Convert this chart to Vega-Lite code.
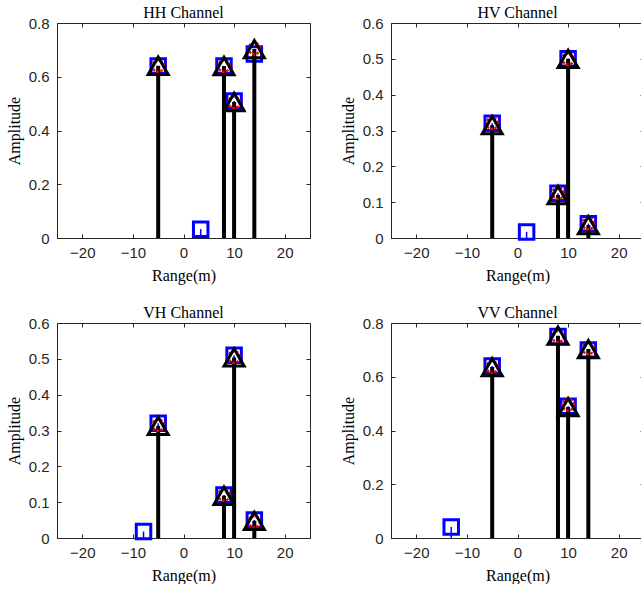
{
  "$schema": "https://vega.github.io/schema/vega-lite/v6.json",
  "padding": {"left": 5, "top": 4, "right": 0, "bottom": 0},
  "datasets": {
    "pts": [
      {"ch": "HH", "s": "tri", "x": -5, "y": 0.641},
      {"ch": "HH", "s": "tri", "x": 8, "y": 0.64},
      {"ch": "HH", "s": "tri", "x": 10, "y": 0.506},
      {"ch": "HH", "s": "tri", "x": 14, "y": 0.703},
      {"ch": "HH", "s": "sq", "x": -5, "y": 0.64},
      {"ch": "HH", "s": "sq", "x": 8, "y": 0.64},
      {"ch": "HH", "s": "sq", "x": 10, "y": 0.51},
      {"ch": "HH", "s": "sq", "x": 14, "y": 0.685},
      {"ch": "HH", "s": "sq", "x": 3.4, "y": 0.033},
      {"ch": "HH", "s": "ci", "x": -5, "y": 0.64},
      {"ch": "HH", "s": "ci", "x": 8, "y": 0.64},
      {"ch": "HH", "s": "ci", "x": 10, "y": 0.505},
      {"ch": "HH", "s": "ci", "x": 14, "y": 0.705},
      {"ch": "HV", "s": "tri", "x": -5, "y": 0.315},
      {"ch": "HV", "s": "tri", "x": 8, "y": 0.12},
      {"ch": "HV", "s": "tri", "x": 10, "y": 0.5},
      {"ch": "HV", "s": "tri", "x": 14, "y": 0.036},
      {"ch": "HV", "s": "sq", "x": -5, "y": 0.32},
      {"ch": "HV", "s": "sq", "x": 8, "y": 0.125},
      {"ch": "HV", "s": "sq", "x": 10, "y": 0.5},
      {"ch": "HV", "s": "sq", "x": 14, "y": 0.04},
      {"ch": "HV", "s": "sq", "x": 1.8, "y": 0.017},
      {"ch": "HV", "s": "ci", "x": -5, "y": 0.32},
      {"ch": "HV", "s": "ci", "x": 8, "y": 0.125},
      {"ch": "HV", "s": "ci", "x": 10, "y": 0.5},
      {"ch": "HV", "s": "ci", "x": 14, "y": 0.04},
      {"ch": "VH", "s": "tri", "x": -5, "y": 0.313},
      {"ch": "VH", "s": "tri", "x": 8, "y": 0.118},
      {"ch": "VH", "s": "tri", "x": 10, "y": 0.504},
      {"ch": "VH", "s": "tri", "x": 14, "y": 0.048},
      {"ch": "VH", "s": "sq", "x": -5, "y": 0.32},
      {"ch": "VH", "s": "sq", "x": 8, "y": 0.12},
      {"ch": "VH", "s": "sq", "x": 10, "y": 0.51},
      {"ch": "VH", "s": "sq", "x": 14, "y": 0.05},
      {"ch": "VH", "s": "sq", "x": -7.9, "y": 0.018},
      {"ch": "VH", "s": "ci", "x": -5, "y": 0.315},
      {"ch": "VH", "s": "ci", "x": 8, "y": 0.12},
      {"ch": "VH", "s": "ci", "x": 10, "y": 0.505},
      {"ch": "VH", "s": "ci", "x": 14, "y": 0.045},
      {"ch": "VV", "s": "tri", "x": -5, "y": 0.636},
      {"ch": "VV", "s": "tri", "x": 8, "y": 0.753},
      {"ch": "VV", "s": "tri", "x": 10, "y": 0.487},
      {"ch": "VV", "s": "tri", "x": 14, "y": 0.703},
      {"ch": "VV", "s": "sq", "x": -5, "y": 0.64},
      {"ch": "VV", "s": "sq", "x": 8, "y": 0.75},
      {"ch": "VV", "s": "sq", "x": 10, "y": 0.49},
      {"ch": "VV", "s": "sq", "x": 14, "y": 0.70},
      {"ch": "VV", "s": "sq", "x": -13.1, "y": 0.041},
      {"ch": "VV", "s": "ci", "x": -5, "y": 0.636},
      {"ch": "VV", "s": "ci", "x": 8, "y": 0.75},
      {"ch": "VV", "s": "ci", "x": 10, "y": 0.495},
      {"ch": "VV", "s": "ci", "x": 14, "y": 0.705}
    ]
  },
  "columns": 2,
  "spacing": {"column": 28, "row": 20},
  "concat": [
    {
      "title": "HH Channel",
      "width": 253, "height": 215,
      "data": {"name": "pts"},
      "transform": [{"filter": "datum.ch == 'HH'"}],
      "resolve": {"axis": {"x": "independent", "y": "independent"}},
      "layer": [
        {"transform": [{"filter": "datum.s == 'sq'"}], "mark": {"type": "rule", "color": "#0000ff", "strokeWidth": 1.5},
         "encoding": {"x": {"field": "x", "type": "quantitative", "scale": {"domain": [-25, 25]}, "axis": {"orient": "bottom", "values": [-20, -10, 0, 10, 20], "title": "Range(m)"}},
                      "y": {"field": "y", "type": "quantitative", "scale": {"domain": [0, 0.8]}, "axis": {"orient": "left", "values": [0, 0.2, 0.4, 0.6, 0.8], "title": "Amplitude", "labelExpr": "datum.value == 0 ? '0' : format(datum.value, '.1f')"}},
                      "y2": {"datum": 0}}},
        {"transform": [{"filter": "datum.s == 'sq'"}], "mark": {"type": "point", "shape": "square", "filled": false, "color": "#0000ff", "strokeWidth": 3, "size": 210, "opacity": 1},
         "encoding": {"x": {"field": "x", "type": "quantitative", "axis": {"orient": "top", "values": [-20, -10, 0, 10, 20], "labels": false, "title": null, "domain": false}},
                      "y": {"field": "y", "type": "quantitative", "axis": {"orient": "right", "values": [0, 0.2, 0.4, 0.6, 0.8], "labels": false, "title": null, "domain": false}}}},
        {"transform": [{"filter": "datum.s == 'tri'"}], "mark": {"type": "rule", "color": "#000000", "strokeWidth": 4},
         "encoding": {"x": {"field": "x", "type": "quantitative", "axis": null}, "y": {"field": "y", "type": "quantitative", "axis": null}, "y2": {"datum": 0}}},
        {"transform": [{"filter": "datum.s == 'ci'"}], "mark": {"type": "point", "shape": "circle", "filled": false, "color": "#ff0000", "strokeWidth": 2.5, "size": 130, "strokeDash": [2.5, 1.5], "opacity": 1},
         "encoding": {"x": {"field": "x", "type": "quantitative", "axis": null}, "y": {"field": "y", "type": "quantitative", "axis": null}}},
        {"transform": [{"filter": "datum.s == 'tri'"}], "mark": {"type": "point", "shape": "triangle-up", "filled": false, "color": "#000000", "strokeWidth": 3, "size": 400, "opacity": 1},
         "encoding": {"x": {"field": "x", "type": "quantitative", "axis": null}, "y": {"field": "y", "type": "quantitative", "axis": null}}}
      ]
    },
    {
      "title": "HV Channel",
      "width": 253, "height": 215,
      "data": {"name": "pts"},
      "transform": [{"filter": "datum.ch == 'HV'"}],
      "resolve": {"axis": {"x": "independent", "y": "independent"}},
      "layer": [
        {"transform": [{"filter": "datum.s == 'sq'"}], "mark": {"type": "rule", "color": "#0000ff", "strokeWidth": 1.5},
         "encoding": {"x": {"field": "x", "type": "quantitative", "scale": {"domain": [-25, 25]}, "axis": {"orient": "bottom", "values": [-20, -10, 0, 10, 20], "title": "Range(m)"}},
                      "y": {"field": "y", "type": "quantitative", "scale": {"domain": [0, 0.6]}, "axis": {"orient": "left", "values": [0, 0.1, 0.2, 0.3, 0.4, 0.5, 0.6], "title": "Amplitude", "labelExpr": "datum.value == 0 ? '0' : format(datum.value, '.1f')"}},
                      "y2": {"datum": 0}}},
        {"transform": [{"filter": "datum.s == 'sq'"}], "mark": {"type": "point", "shape": "square", "filled": false, "color": "#0000ff", "strokeWidth": 3, "size": 210, "opacity": 1},
         "encoding": {"x": {"field": "x", "type": "quantitative", "axis": {"orient": "top", "values": [-20, -10, 0, 10, 20], "labels": false, "title": null, "domain": false}},
                      "y": {"field": "y", "type": "quantitative", "axis": {"orient": "right", "values": [0, 0.1, 0.2, 0.3, 0.4, 0.5, 0.6], "labels": false, "title": null, "domain": false}}}},
        {"transform": [{"filter": "datum.s == 'tri'"}], "mark": {"type": "rule", "color": "#000000", "strokeWidth": 4},
         "encoding": {"x": {"field": "x", "type": "quantitative", "axis": null}, "y": {"field": "y", "type": "quantitative", "axis": null}, "y2": {"datum": 0}}},
        {"transform": [{"filter": "datum.s == 'ci'"}], "mark": {"type": "point", "shape": "circle", "filled": false, "color": "#ff0000", "strokeWidth": 2.5, "size": 130, "strokeDash": [2.5, 1.5], "opacity": 1},
         "encoding": {"x": {"field": "x", "type": "quantitative", "axis": null}, "y": {"field": "y", "type": "quantitative", "axis": null}}},
        {"transform": [{"filter": "datum.s == 'tri'"}], "mark": {"type": "point", "shape": "triangle-up", "filled": false, "color": "#000000", "strokeWidth": 3, "size": 400, "opacity": 1},
         "encoding": {"x": {"field": "x", "type": "quantitative", "axis": null}, "y": {"field": "y", "type": "quantitative", "axis": null}}}
      ]
    },
    {
      "title": "VH Channel",
      "width": 253, "height": 215,
      "data": {"name": "pts"},
      "transform": [{"filter": "datum.ch == 'VH'"}],
      "resolve": {"axis": {"x": "independent", "y": "independent"}},
      "layer": [
        {"transform": [{"filter": "datum.s == 'sq'"}], "mark": {"type": "rule", "color": "#0000ff", "strokeWidth": 1.5},
         "encoding": {"x": {"field": "x", "type": "quantitative", "scale": {"domain": [-25, 25]}, "axis": {"orient": "bottom", "values": [-20, -10, 0, 10, 20], "title": "Range(m)"}},
                      "y": {"field": "y", "type": "quantitative", "scale": {"domain": [0, 0.6]}, "axis": {"orient": "left", "values": [0, 0.1, 0.2, 0.3, 0.4, 0.5, 0.6], "title": "Amplitude", "labelExpr": "datum.value == 0 ? '0' : format(datum.value, '.1f')"}},
                      "y2": {"datum": 0}}},
        {"transform": [{"filter": "datum.s == 'sq'"}], "mark": {"type": "point", "shape": "square", "filled": false, "color": "#0000ff", "strokeWidth": 3, "size": 210, "opacity": 1},
         "encoding": {"x": {"field": "x", "type": "quantitative", "axis": {"orient": "top", "values": [-20, -10, 0, 10, 20], "labels": false, "title": null, "domain": false}},
                      "y": {"field": "y", "type": "quantitative", "axis": {"orient": "right", "values": [0, 0.1, 0.2, 0.3, 0.4, 0.5, 0.6], "labels": false, "title": null, "domain": false}}}},
        {"transform": [{"filter": "datum.s == 'tri'"}], "mark": {"type": "rule", "color": "#000000", "strokeWidth": 4},
         "encoding": {"x": {"field": "x", "type": "quantitative", "axis": null}, "y": {"field": "y", "type": "quantitative", "axis": null}, "y2": {"datum": 0}}},
        {"transform": [{"filter": "datum.s == 'ci'"}], "mark": {"type": "point", "shape": "circle", "filled": false, "color": "#ff0000", "strokeWidth": 2.5, "size": 130, "strokeDash": [2.5, 1.5], "opacity": 1},
         "encoding": {"x": {"field": "x", "type": "quantitative", "axis": null}, "y": {"field": "y", "type": "quantitative", "axis": null}}},
        {"transform": [{"filter": "datum.s == 'tri'"}], "mark": {"type": "point", "shape": "triangle-up", "filled": false, "color": "#000000", "strokeWidth": 3, "size": 400, "opacity": 1},
         "encoding": {"x": {"field": "x", "type": "quantitative", "axis": null}, "y": {"field": "y", "type": "quantitative", "axis": null}}}
      ]
    },
    {
      "title": "VV Channel",
      "width": 253, "height": 215,
      "data": {"name": "pts"},
      "transform": [{"filter": "datum.ch == 'VV'"}],
      "resolve": {"axis": {"x": "independent", "y": "independent"}},
      "layer": [
        {"transform": [{"filter": "datum.s == 'sq'"}], "mark": {"type": "rule", "color": "#0000ff", "strokeWidth": 1.5},
         "encoding": {"x": {"field": "x", "type": "quantitative", "scale": {"domain": [-25, 25]}, "axis": {"orient": "bottom", "values": [-20, -10, 0, 10, 20], "title": "Range(m)"}},
                      "y": {"field": "y", "type": "quantitative", "scale": {"domain": [0, 0.8]}, "axis": {"orient": "left", "values": [0, 0.2, 0.4, 0.6, 0.8], "title": "Amplitude", "labelExpr": "datum.value == 0 ? '0' : format(datum.value, '.1f')"}},
                      "y2": {"datum": 0}}},
        {"transform": [{"filter": "datum.s == 'sq'"}], "mark": {"type": "point", "shape": "square", "filled": false, "color": "#0000ff", "strokeWidth": 3, "size": 210, "opacity": 1},
         "encoding": {"x": {"field": "x", "type": "quantitative", "axis": {"orient": "top", "values": [-20, -10, 0, 10, 20], "labels": false, "title": null, "domain": false}},
                      "y": {"field": "y", "type": "quantitative", "axis": {"orient": "right", "values": [0, 0.2, 0.4, 0.6, 0.8], "labels": false, "title": null, "domain": false}}}},
        {"transform": [{"filter": "datum.s == 'tri'"}], "mark": {"type": "rule", "color": "#000000", "strokeWidth": 4},
         "encoding": {"x": {"field": "x", "type": "quantitative", "axis": null}, "y": {"field": "y", "type": "quantitative", "axis": null}, "y2": {"datum": 0}}},
        {"transform": [{"filter": "datum.s == 'ci'"}], "mark": {"type": "point", "shape": "circle", "filled": false, "color": "#ff0000", "strokeWidth": 2.5, "size": 130, "strokeDash": [2.5, 1.5], "opacity": 1},
         "encoding": {"x": {"field": "x", "type": "quantitative", "axis": null}, "y": {"field": "y", "type": "quantitative", "axis": null}}},
        {"transform": [{"filter": "datum.s == 'tri'"}], "mark": {"type": "point", "shape": "triangle-up", "filled": false, "color": "#000000", "strokeWidth": 3, "size": 400, "opacity": 1},
         "encoding": {"x": {"field": "x", "type": "quantitative", "axis": null}, "y": {"field": "y", "type": "quantitative", "axis": null}}}
      ]
    }
  ],
  "config": {
    "view": {"stroke": "#262626", "strokeWidth": 1},
    "axis": {
      "grid": false,
      "domainColor": "#262626",
      "tickColor": "#262626",
      "tickSize": -4,
      "labelColor": "#262626",
      "labelFont": "Liberation Sans",
      "labelFontSize": 15,
      "titleFont": "Liberation Serif",
      "titleFontSize": 16,
      "titleFontWeight": "normal",
      "titleColor": "#000000"
    },
    "axisBottom": {"labelPadding": 11, "titlePadding": 7},
    "axisLeft": {"labelPadding": 12, "titlePadding": 6},
    "title": {"font": "Liberation Serif", "fontSize": 16, "fontWeight": "normal", "color": "#000000", "offset": -5}
  }
}
